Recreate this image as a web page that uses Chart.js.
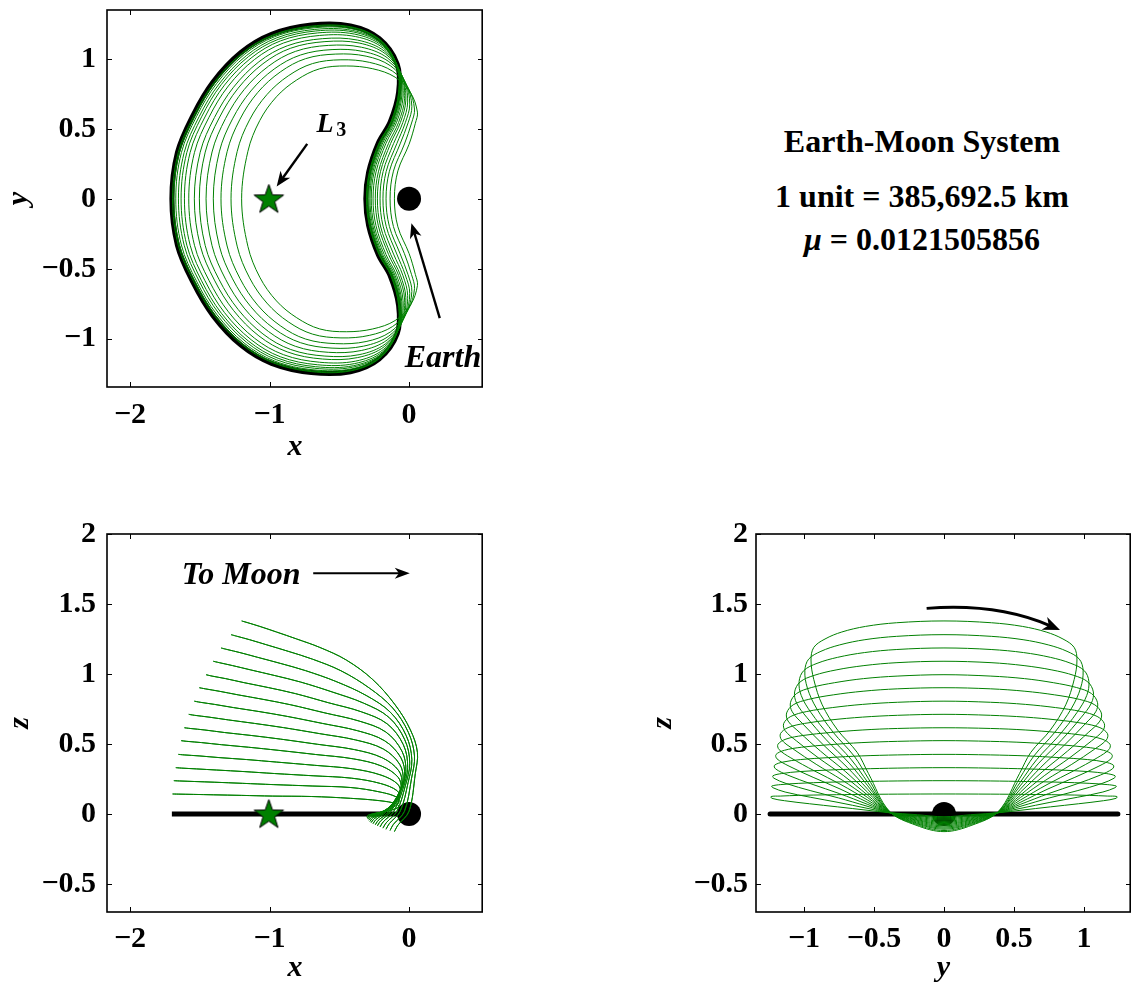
<!DOCTYPE html>
<html>
<head>
<meta charset="utf-8">
<title>Earth-Moon L3 orbit family</title>
<script src="https://cdn.jsdelivr.net/npm/chart.js@4.4.1/dist/chart.umd.min.js"></script>
<style>
  html, body { margin:0; padding:0; background:#fff; }
  body { width:1131px; height:988px; overflow:hidden; position:relative; }
  canvas { position:absolute; }
  .info { position:absolute; left:722px; width:400px; text-align:center;
          font-family:"Liberation Serif","Times New Roman",serif; font-weight:bold;
          font-size:32px; line-height:32px; color:#000; white-space:nowrap; }
</style>
</head>
<body>
<canvas id="cXY" width="500" height="500" style="left:0;top:-30px"></canvas>
<canvas id="cXZ" width="500" height="494" style="left:0;top:494px"></canvas>
<canvas id="cYZ" width="508" height="494" style="left:640px;top:494px"></canvas>
<div class="info" style="top:125px">Earth-Moon System</div>
<div class="info" style="top:180px">1 unit = 385,692.5 km</div>
<div class="info" style="top:223px"><i>μ</i> = 0.0121505856</div>
<script>
// ---------------- DATA ----------------
// Half orbits (from the y = 0 crossing on the far side, over y > 0, to the y = 0 crossing near Earth).
// One row per orbit of the family, largest out-of-plane amplitude first.
const orbitX = [
  [-1.200,-1.155,-1.070,-0.950,-0.805,-0.640,-0.450,-0.260,-0.100, 0.010, 0.060, 0.045, 0.000,-0.080,-0.105],
  [-1.276,-1.232,-1.143,-1.019,-0.866,-0.692,-0.488,-0.285,-0.117,-0.005, 0.039, 0.018,-0.033,-0.112,-0.136],
  [-1.348,-1.304,-1.212,-1.085,-0.923,-0.742,-0.525,-0.308,-0.133,-0.020, 0.020,-0.007,-0.064,-0.141,-0.165],
  [-1.403,-1.360,-1.265,-1.134,-0.967,-0.779,-0.552,-0.326,-0.145,-0.031, 0.005,-0.027,-0.088,-0.164,-0.187],
  [-1.455,-1.412,-1.315,-1.182,-1.008,-0.815,-0.579,-0.342,-0.157,-0.041,-0.010,-0.045,-0.111,-0.186,-0.208],
  [-1.503,-1.461,-1.361,-1.225,-1.047,-0.848,-0.603,-0.358,-0.167,-0.051,-0.023,-0.062,-0.132,-0.205,-0.227],
  [-1.539,-1.497,-1.395,-1.258,-1.076,-0.873,-0.621,-0.370,-0.175,-0.058,-0.032,-0.075,-0.147,-0.220,-0.242],
  [-1.579,-1.538,-1.434,-1.295,-1.108,-0.900,-0.641,-0.383,-0.184,-0.067,-0.043,-0.089,-0.165,-0.237,-0.258],
  [-1.610,-1.569,-1.463,-1.323,-1.132,-0.922,-0.657,-0.392,-0.191,-0.073,-0.052,-0.100,-0.178,-0.250,-0.271],
  [-1.634,-1.593,-1.487,-1.345,-1.151,-0.938,-0.669,-0.400,-0.196,-0.078,-0.058,-0.108,-0.189,-0.260,-0.280],
  [-1.653,-1.612,-1.505,-1.362,-1.166,-0.951,-0.679,-0.406,-0.201,-0.081,-0.064,-0.115,-0.197,-0.268,-0.288],
  [-1.672,-1.632,-1.523,-1.379,-1.182,-0.964,-0.688,-0.413,-0.205,-0.085,-0.069,-0.122,-0.205,-0.276,-0.296],
  [-1.686,-1.646,-1.536,-1.392,-1.193,-0.974,-0.695,-0.417,-0.208,-0.088,-0.073,-0.127,-0.211,-0.281,-0.301],
  [-1.695,-1.655,-1.545,-1.400,-1.200,-0.980,-0.700,-0.420,-0.210,-0.090,-0.075,-0.130,-0.215,-0.285,-0.305]
];
const orbitY = [
  [0,0.340,0.560,0.730,0.850,0.930,0.950,0.930,0.870,0.760,0.620,0.540,0.390,0.200,0],
  [0,0.338,0.565,0.745,0.879,0.967,0.994,0.976,0.912,0.791,0.642,0.542,0.392,0.198,0],
  [0,0.337,0.569,0.760,0.907,1.002,1.035,1.020,0.951,0.820,0.662,0.543,0.393,0.197,0],
  [0,0.336,0.572,0.771,0.928,1.028,1.067,1.053,0.981,0.842,0.677,0.544,0.394,0.196,0],
  [0,0.335,0.575,0.781,0.948,1.054,1.097,1.084,1.009,0.863,0.692,0.545,0.395,0.195,0],
  [0,0.334,0.578,0.791,0.966,1.077,1.124,1.114,1.035,0.882,0.706,0.546,0.396,0.194,0],
  [0,0.333,0.581,0.798,0.980,1.094,1.145,1.135,1.055,0.897,0.716,0.547,0.397,0.193,0],
  [0,0.332,0.583,0.807,0.996,1.114,1.168,1.160,1.077,0.913,0.727,0.548,0.398,0.192,0],
  [0,0.332,0.585,0.813,1.007,1.129,1.186,1.178,1.094,0.926,0.736,0.548,0.398,0.192,0],
  [0,0.331,0.586,0.818,1.017,1.140,1.200,1.193,1.107,0.935,0.743,0.549,0.399,0.191,0],
  [0,0.331,0.587,0.821,1.024,1.150,1.211,1.204,1.117,0.943,0.748,0.549,0.399,0.191,0],
  [0,0.330,0.589,0.825,1.031,1.159,1.222,1.216,1.128,0.951,0.754,0.550,0.400,0.190,0],
  [0,0.330,0.589,0.828,1.037,1.166,1.230,1.225,1.135,0.956,0.757,0.550,0.400,0.190,0],
  [0,0.330,0.590,0.830,1.040,1.170,1.235,1.230,1.140,0.960,0.760,0.550,0.400,0.190,0]
];
const orbitZ = [
  [1.379,1.366,1.340,1.300,1.250,1.190,1.100,0.960,0.780,0.600,0.440,0.290,0.020,-0.080,-0.126],
  [1.281,1.269,1.245,1.208,1.162,1.106,1.023,0.900,0.757,0.583,0.414,0.256,0.019,-0.074,-0.118],
  [1.186,1.175,1.153,1.119,1.076,1.024,0.947,0.847,0.726,0.559,0.388,0.224,0.018,-0.068,-0.109],
  [1.091,1.081,1.060,1.029,0.990,0.943,0.872,0.792,0.691,0.531,0.363,0.201,0.018,-0.063,-0.101],
  [0.995,0.985,0.967,0.938,0.903,0.860,0.795,0.730,0.644,0.495,0.334,0.177,0.017,-0.057,-0.093],
  [0.902,0.894,0.877,0.851,0.819,0.780,0.722,0.664,0.586,0.449,0.305,0.156,0.016,-0.051,-0.085],
  [0.806,0.798,0.783,0.760,0.732,0.697,0.647,0.595,0.523,0.401,0.273,0.136,0.015,-0.045,-0.077],
  [0.712,0.705,0.692,0.672,0.647,0.617,0.574,0.529,0.464,0.355,0.242,0.119,0.015,-0.040,-0.069],
  [0.616,0.611,0.600,0.582,0.561,0.535,0.498,0.460,0.401,0.308,0.210,0.101,0.014,-0.034,-0.061],
  [0.524,0.519,0.510,0.495,0.477,0.455,0.425,0.394,0.342,0.262,0.179,0.085,0.013,-0.028,-0.053],
  [0.426,0.422,0.415,0.403,0.389,0.371,0.348,0.323,0.278,0.213,0.146,0.070,0.012,-0.022,-0.044],
  [0.331,0.328,0.322,0.314,0.303,0.289,0.273,0.256,0.218,0.166,0.115,0.056,0.012,-0.016,-0.036],
  [0.238,0.236,0.232,0.227,0.219,0.210,0.200,0.189,0.157,0.120,0.083,0.041,0.011,-0.011,-0.028],
  [0.143,0.142,0.140,0.137,0.133,0.128,0.125,0.112,0.095,0.073,0.051,0.027,0.010,-0.005,-0.020]
];
// Planar Lyapunov orbit (z = 0), half orbit
const lyapX = [-1.700,-1.660,-1.550,-1.405,-1.205,-0.985,-0.700,-0.420,-0.215,-0.085,-0.075,-0.135,-0.220,-0.290,-0.310];
const lyapY = [0,0.332,0.594,0.835,1.046,1.176,1.242,1.236,1.146,0.964,0.762,0.550,0.400,0.190,0];
const earthXYZ = [0, 0, 0];
const l3XYZ = [-1.005, 0, 0];
// Tick labels
const ticksTopX = [-2, -1, 0];
const ticksTopY = [-1, -0.5, 0, 0.5, 1];
const ticksXZ_X = [-2, -1, 0];
const ticksZ = [-0.5, 0, 0.5, 1, 1.5, 2];
const ticksYZ_Y = [-1, -0.5, 0, 0.5, 1];

// ---------------- HELPERS ----------------
const FONT = '"Liberation Serif", "Times New Roman", serif';
const GREEN = 'rgb(0,128,0)';
Chart.defaults.font.family = FONT;

function closedOrbit(xs, ys, zs) {
  const X = [], Y = [], Z = [];
  for (let j = 0; j < xs.length; j++) { X.push(xs[j]); Y.push(ys[j]); Z.push(zs[j]); }
  for (let j = xs.length - 2; j >= 1; j--) { X.push(xs[j]); Y.push(-ys[j]); Z.push(zs[j]); }
  return { x: X, y: Y, z: Z };
}
// wrap a closed loop so that the spline is smooth everywhere; outer segments are hidden
function wrapPts(a, b) {
  const n = a.length, pts = [{ x: a[n - 1], y: b[n - 1] }];
  for (let i = 0; i < n; i++) pts.push({ x: a[i], y: b[i] });
  pts.push({ x: a[0], y: b[0] });
  pts.push({ x: a[1], y: b[1] });
  return pts;
}
function loopDataset(pts, color, width, order) {
  const last = pts.length - 1;
  return {
    data: pts, showLine: true, borderColor: color, borderWidth: width,
    pointRadius: 0, tension: 0.35, order: order,
    segment: { borderColor: c => (c.p0DataIndex === 0 || c.p1DataIndex === last) ? 'rgba(0,0,0,0)' : color }
  };
}
function starImage(R, r) {
  const c = document.createElement('canvas');
  const s = Math.ceil(2 * R + 4);
  c.width = c.height = s;
  const g = c.getContext('2d');
  g.translate(s / 2, s / 2 + 1);
  g.beginPath();
  for (let i = 0; i < 10; i++) {
    const rad = (i % 2) ? r : R, a = -Math.PI / 2 + i * Math.PI / 5;
    g.lineTo(rad * Math.cos(a), rad * Math.sin(a));
  }
  g.closePath();
  g.fillStyle = GREEN; g.fill();
  g.strokeStyle = '#000'; g.lineWidth = 1; g.stroke();
  return c;
}
const STAR = starImage(15.5, 6.2);

const orbits = orbitX.map((xs, k) => closedOrbit(xs, orbitY[k], orbitZ[k]));
const lyap = closedOrbit(lyapX, lyapY, lyapX.map(() => 0));

function buildDatasets(ka, kb, withStar, ea, eb, sa, sb, lyapWidth) {
  const ds = [];
  orbits.forEach(o => ds.push(loopDataset(wrapPts(o[ka], o[kb]), GREEN, 1, 1)));
  ds.push(loopDataset(wrapPts(lyap[ka], lyap[kb]), '#000', lyapWidth, 2));
  ds.push({ data: [{ x: ea, y: eb }], pointRadius: 12, pointBackgroundColor: '#000',
            pointBorderWidth: 0, showLine: false, order: 3 });
  if (withStar) ds.push({ data: [{ x: sa, y: sb }], pointStyle: STAR, pointRadius: 15,
            showLine: false, order: 0 });
  return ds;
}

const fmt = v => (v < 0 ? '\u2212' : '') + String(Math.abs(v));

function arrow(ctx, x1, y1, x2, y2, lw, hl, hw) {
  const a = Math.atan2(y2 - y1, x2 - x1), c = Math.cos(a), s = Math.sin(a);
  ctx.lineWidth = lw;
  ctx.beginPath(); ctx.moveTo(x1, y1); ctx.lineTo(x2 - c * hl * 0.7, y2 - s * hl * 0.7); ctx.stroke();
  arrowHead(ctx, x2, y2, a, hl, hw);
}
function arrowHead(ctx, x2, y2, a, hl, hw) {
  const c = Math.cos(a), s = Math.sin(a);
  const bx = x2 - c * hl, by = y2 - s * hl;
  ctx.beginPath();
  ctx.moveTo(x2, y2);
  ctx.lineTo(bx - s * hw, by + c * hw);
  ctx.lineTo(x2 - c * hl * 0.72, y2 - s * hl * 0.72);
  ctx.lineTo(bx + s * hw, by - c * hw);
  ctx.closePath(); ctx.fill();
}

const framePlugin = {
  id: 'frame',
  afterDraw(chart) {
    const { ctx, chartArea: a, scales: { x, y } } = chart;
    ctx.save();
    ctx.strokeStyle = '#000';
    ctx.lineWidth = 1;
    const L = 5;
    ctx.beginPath();
    x.ticks.forEach(t => {
      const p = Math.round(x.getPixelForValue(t.value)) + 0.5;
      ctx.moveTo(p, a.bottom); ctx.lineTo(p, a.bottom - L);
      ctx.moveTo(p, a.top); ctx.lineTo(p, a.top + L);
    });
    y.ticks.forEach(t => {
      const p = Math.round(y.getPixelForValue(t.value)) + 0.5;
      ctx.moveTo(a.left, p); ctx.lineTo(a.left + L, p);
      ctx.moveTo(a.right, p); ctx.lineTo(a.right - L, p);
    });
    ctx.stroke();
    ctx.lineWidth = 1.6;
    ctx.strokeRect(a.left, a.top, a.right - a.left - 0.8, a.bottom - a.top);
    ctx.restore();
  }
};

function makeChart(id, o) {
  return new Chart(document.getElementById(id), {
    type: 'scatter',
    data: { datasets: o.datasets },
    options: {
      responsive: false, animation: false, events: [], devicePixelRatio: 1,
      layout: { padding: o.padding },
      plugins: { legend: { display: false }, tooltip: { enabled: false } },
      scales: {
        x: {
          type: 'linear', position: 'bottom', min: o.xMin, max: o.xMax,
          grid: { display: false, drawTicks: false }, border: { display: false },
          afterBuildTicks: s => { s.ticks = o.xTicks.map(v => ({ value: v })); },
          afterFit: s => { s.height = o.xAxisH; },
          ticks: { font: { family: FONT, size: 30, weight: 'bold' }, color: '#000',
                   padding: o.xTickPad, autoSkip: false, maxRotation: 0, minRotation: 0, callback: fmt },
          title: { display: true, text: o.xTitle, color: '#000',
                   font: { family: FONT, size: 30, weight: 'bold', style: 'italic', lineHeight: 1.2 },
                   padding: { top: 0, bottom: o.xTitlePad } }
        },
        y: {
          type: 'linear', position: 'left', min: o.yMin, max: o.yMax,
          grid: { display: false, drawTicks: false }, border: { display: false },
          afterBuildTicks: s => { s.ticks = o.yTicks.map(v => ({ value: v })); },
          afterFit: s => { s.width = o.yAxisW; },
          ticks: { font: { family: FONT, size: 30, weight: 'bold' }, color: '#000',
                   padding: o.yTickPad, autoSkip: false, callback: fmt },
          title: { display: true, text: o.yTitle, color: '#000',
                   font: { family: FONT, size: 30, weight: 'bold', style: 'italic', lineHeight: 1 },
                   padding: { top: o.yTitlePad, bottom: 0 } }
        }
      }
    },
    plugins: [framePlugin, { id: 'ann_' + id, afterDraw: o.annotate }]
  });
}

// ---------------- x-y ----------------
makeChart('cXY', {
  datasets: buildDatasets('x', 'y', true, earthXYZ[0], earthXYZ[1], l3XYZ[0], l3XYZ[1], 5),
  padding: { top: 40, right: 17, left: 0, bottom: 0 },
  xMin: -2.165, xMax: 0.53, yMin: -1.345, yMax: 1.35,
  xTicks: ticksTopX, yTicks: ticksTopY,
  xAxisH: 83, yAxisW: 107, xTickPad: 10, xTitlePad: 5, yTickPad: 11, yTitlePad: 4,
  xTitle: 'x', yTitle: 'y',
  annotate: chart => {
    const { ctx, scales: { x, y } } = chart;
    const P = (a, b) => [x.getPixelForValue(a), y.getPixelForValue(b)];
    ctx.save();
    ctx.fillStyle = '#000'; ctx.strokeStyle = '#000';
    ctx.textAlign = 'left'; ctx.textBaseline = 'alphabetic';
    ctx.font = 'italic bold 28px ' + FONT;
    let p = P(-0.663, 0.481); ctx.fillText('L', p[0], p[1]);
    ctx.font = 'bold 20px ' + FONT;
    p = P(-0.522, 0.448); ctx.fillText('3', p[0], p[1]);
    let s = P(-0.73, 0.393), e = P(-0.949, 0.088);
    arrow(ctx, s[0], s[1], e[0], e[1], 2.4, 15, 6);
    ctx.font = 'italic bold 32px ' + FONT;
    p = P(-0.031, -1.202); ctx.fillText('Earth', p[0], p[1]);
    s = P(0.22, -0.852); e = P(0.017, -0.174);
    arrow(ctx, s[0], s[1], e[0], e[1], 2.4, 15, 6);
    ctx.restore();
  }
});

// ---------------- x-z ----------------
makeChart('cXZ', {
  datasets: buildDatasets('x', 'z', true, earthXYZ[0], earthXYZ[2], l3XYZ[0], l3XYZ[2], 5),
  padding: { top: 40, right: 17, left: 0, bottom: 0 },
  xMin: -2.165, xMax: 0.53, yMin: -0.7, yMax: 2.0,
  xTicks: ticksXZ_X, yTicks: ticksZ,
  xAxisH: 76, yAxisW: 107, xTickPad: 9, xTitlePad: 2, yTickPad: 11, yTitlePad: 5,
  xTitle: 'x', yTitle: 'z',
  annotate: chart => {
    const { ctx, scales: { x, y } } = chart;
    const P = (a, b) => [x.getPixelForValue(a), y.getPixelForValue(b)];
    ctx.save();
    ctx.fillStyle = '#000'; ctx.strokeStyle = '#000';
    ctx.textAlign = 'left'; ctx.textBaseline = 'alphabetic';
    ctx.font = 'italic bold 32px ' + FONT;
    let p = P(-1.63, 1.643); ctx.fillText('To Moon', p[0], p[1]);
    const s = P(-0.687, 1.719), e = P(0.005, 1.719);
    arrow(ctx, s[0], s[1], e[0], e[1], 2, 15, 5.5);
    ctx.restore();
  }
});

// ---------------- y-z ----------------
makeChart('cYZ', {
  datasets: buildDatasets('y', 'z', false, earthXYZ[1], earthXYZ[2], 0, 0, 5),
  padding: { top: 40, right: 17, left: 0, bottom: 0 },
  xMin: -1.343, xMax: 1.336, yMin: -0.7, yMax: 2.0,
  xTicks: ticksYZ_Y, yTicks: ticksZ,
  xAxisH: 76, yAxisW: 116, xTickPad: 9, xTitlePad: 2, yTickPad: 8, yTitlePad: 8,
  xTitle: 'y', yTitle: 'z',
  annotate: chart => {
    const { ctx, scales: { x, y } } = chart;
    const P = (a, b) => [x.getPixelForValue(a), y.getPixelForValue(b)];
    ctx.save();
    ctx.fillStyle = '#000'; ctx.strokeStyle = '#000';
    const s = P(-0.124, 1.469), c = P(0.376, 1.508), e = P(0.829, 1.314);
    const ang = Math.atan2(e[1] - c[1], e[0] - c[0]);
    const hl = 17;
    const eb = [e[0] - Math.cos(ang) * hl * 0.7, e[1] - Math.sin(ang) * hl * 0.7];
    ctx.lineWidth = 2.8;
    ctx.beginPath(); ctx.moveTo(s[0], s[1]); ctx.quadraticCurveTo(c[0], c[1], eb[0], eb[1]); ctx.stroke();
    arrowHead(ctx, e[0], e[1], ang, hl, 7);
    ctx.restore();
  }
});
</script>
</body>
</html>
